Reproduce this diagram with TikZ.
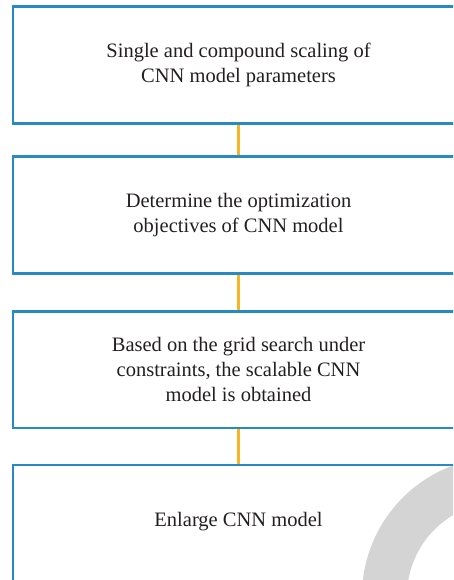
\documentclass[tikz,border=0pt]{standalone}
\usepackage{fontspec}
\setmainfont{Liberation Serif}
\definecolor{boxblue}{RGB}{40,138,196}
\definecolor{linkorange}{RGB}{247,180,35}
\definecolor{txtgray}{RGB}{35,31,32}
\definecolor{ringgray}{RGB}{212,212,212}
\begin{document}
\begin{tikzpicture}[x=1pt,y=-1pt,
  stepbox/.style={draw=boxblue, line width=2.7pt, rectangle, inner sep=0pt,
    minimum width=451pt, minimum height=116.5pt, align=center,
    font=\fontsize{20.5}{25}\selectfont, text=txtgray},
  link/.style={draw=linkorange, line width=2.2pt}]
\useasboundingbox (0,0) rectangle (453,580);
\clip (0,0) rectangle (453,580);
\begin{scope}
  \clip (13,464) rectangle (464,580);
  \fill[ringgray, even odd rule] (501,596) circle[radius=139pt] circle[radius=94pt];
\end{scope}
\node[stepbox] (s1) at (238.5,65) {Single and compound scaling of\\CNN model parameters};
\node[stepbox] (s2) at (238.5,215) {Determine the optimization\\objectives of CNN model};
\node[stepbox] (s3) at (238.5,369.7) {Based on the grid search under\\constraints, the scalable CNN\\model is obtained};
\node[stepbox, text height=0pt, text depth=0pt] (s4) at (238.5,523.2) {\raisebox{-3pt}{Enlarge CNN model}};
\draw[link] (s1.south) -- (s2.north);
\draw[link] (s2.south) -- (s3.north);
\draw[link] (s3.south) -- (s4.north);
\end{tikzpicture}
\end{document}
